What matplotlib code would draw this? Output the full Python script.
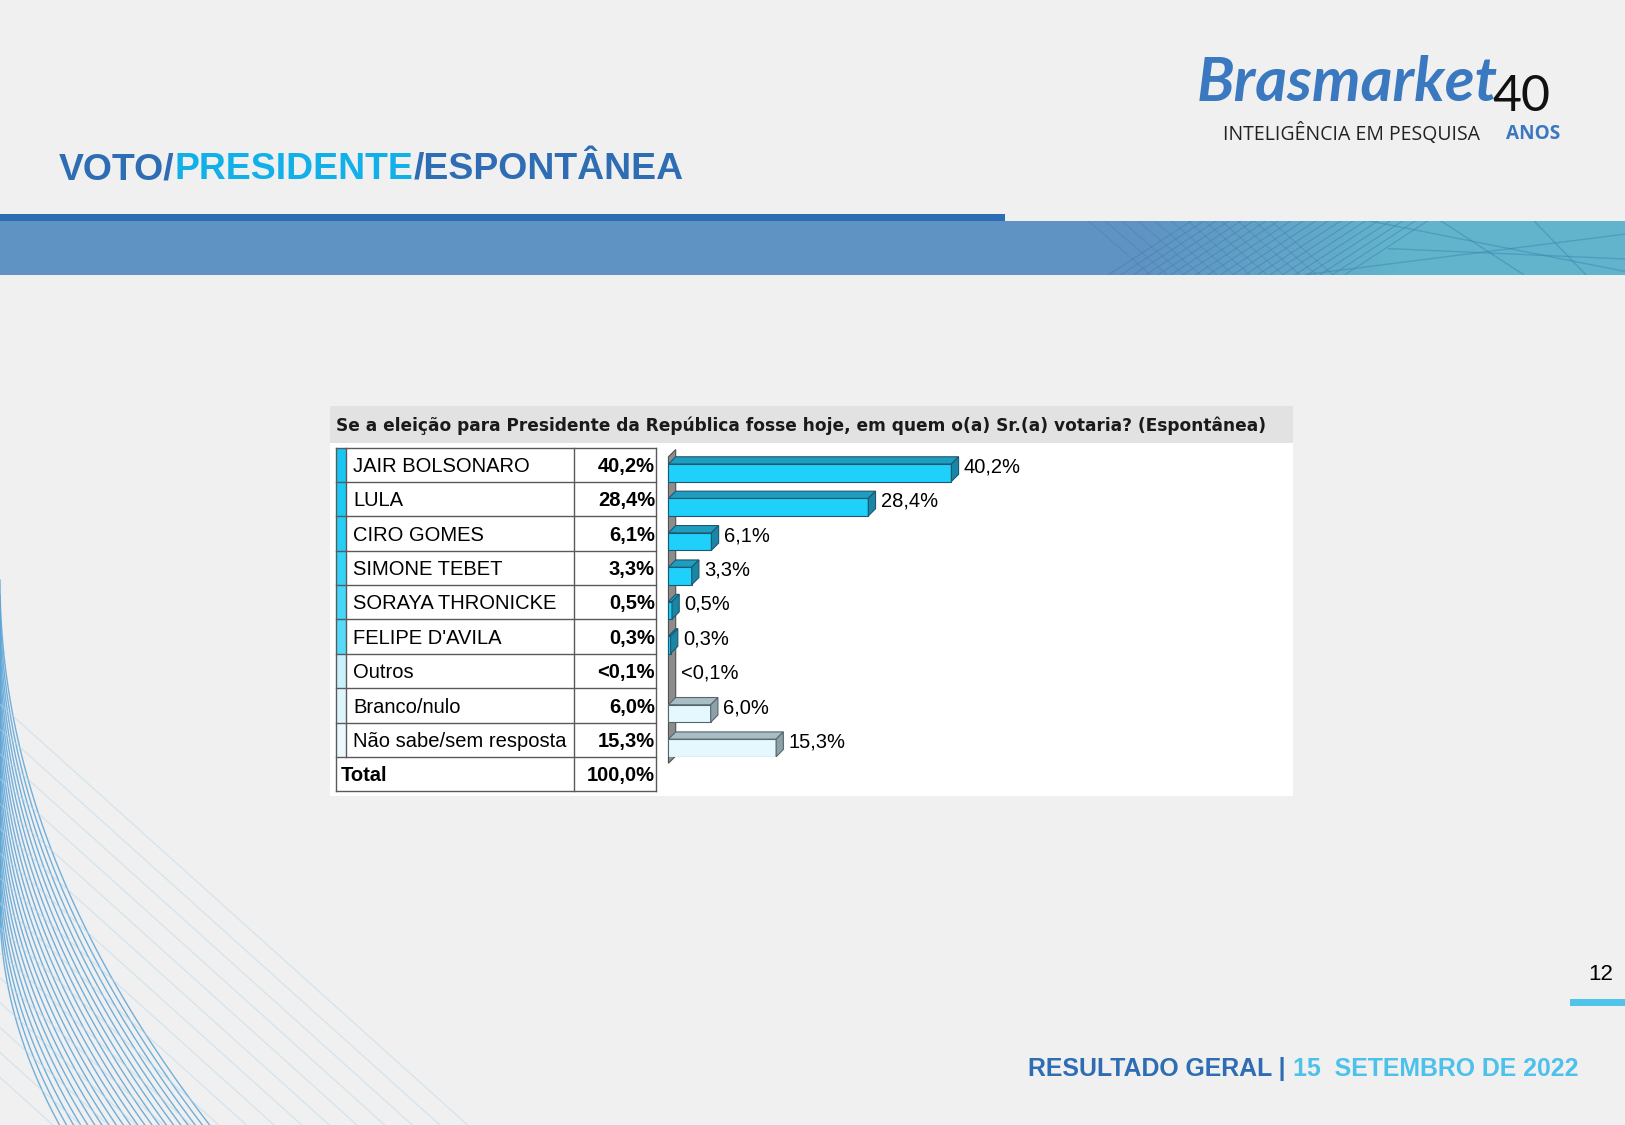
import numpy as np
import matplotlib
matplotlib.use("Agg")
import matplotlib.pyplot as plt
from matplotlib.patches import Polygon, Rectangle

# data
categories = ["JAIR BOLSONARO", "LULA", "CIRO GOMES", "SIMONE TEBET", "SORAYA THRONICKE",
              "FELIPE D'AVILA", "Outros", "Branco/nulo", "Não sabe/sem resposta"]
values = [40.2, 28.4, 6.1, 3.3, 0.5, 0.3, 0.0, 6.0, 15.3]
value_labels = ["40,2%", "28,4%", "6,1%", "3,3%", "0,5%", "0,3%", "<0,1%", "6,0%", "15,3%"]
total_text = ["Total", "100,0%"]
question = "Se a eleição para Presidente da República fosse hoje, em quem o(a) Sr.(a) votaria? (Espontânea)"
title_runs = ["VOTO/", "PRESIDENTE", "/ESPONTÂNEA"]
footer_runs = ["RESULTADO GERAL | ", "15  SETEMBRO DE 2022"]
page_no = "12"

# styles
strip_colors = ["#17C6F2", "#1CCBF5", "#25CEF6", "#34D3F8", "#45D7F9", "#55DBF9",
                "#C9F1FC", "#DDF6FD", "#EBF9FE"]
is_light = [False] * 6 + [True] * 3
BLUE = "#2E6DB4"
CYAN = "#12B0E8"
BG = "#F0F0F0"

W, H = 1568, 1086          # layout units (reference pixels)
FW, FH = 1625, 1125
fig = plt.figure(figsize=(FW / 100, FH / 100), dpi=100)
fig.patch.set_facecolor(BG)
bg = fig.add_axes([0, 0, 1, 1])
bg.set_xlim(0, W)
bg.set_ylim(H, 0)
bg.axis("off")
r = fig.canvas.get_renderer()


def width_of(t):
    return t.get_window_extent(renderer=r).width * W / FW


def runs(texts, colors, x, y, target, ha="left", **kw):
    objs = [bg.text(0, y, s, color=c, va="center", ha="left", **kw) for s, c in zip(texts, colors)]
    tot = sum(width_of(o) for o in objs)
    for o in objs:
        o.set_fontsize(o.get_fontsize() * target / tot)
    tot = sum(width_of(o) for o in objs)
    cur = x if ha == "left" else x - tot
    for o in objs:
        o.set_x(cur)
        cur += width_of(o)
    return objs


# left decoration
tt = np.linspace(0, 1, 80)
for k in range(22):
    y0 = 560 + k * 15
    xe = 210 - k * 7
    bg.plot(xe * tt ** 2.0, y0 + (H + 10 - y0) * tt, color="#5BA3D6", lw=1.0, alpha=0.85)
for k in range(16):
    y0 = 680 + k * 24
    bg.plot([0, (H + 10 - y0) / 0.9], [y0, H + 10], color="#B5D8EE", lw=0.9, alpha=0.5)

# header line and band
bg.add_patch(Rectangle((0, 207), 970, 6, color=BLUE, lw=0))
grad = np.zeros((1, 400, 3))
c1 = np.array([0x5F, 0x93, 0xC3]) / 255
c2 = np.array([0x62, 0xB4, 0xCC]) / 255
xs = np.linspace(0, W, 400)
f = np.clip((xs - 1100) / 250, 0, 1)[:, None]
grad[0] = c1 * (1 - f) + c2 * f
bg.imshow(grad, extent=[0, W, 265, 213], aspect="auto", zorder=1)
band_clip = Rectangle((0, 213), W, 52, transform=bg.transData)
for x0 in np.arange(1070, 1300, 12):
    ln, = bg.plot([x0, x0 + 80], [265, 213], color="#4A7CB0", lw=0.8, alpha=0.55, zorder=2)
    ln.set_clip_path(band_clip)
for x0 in np.arange(1110, 1300, 16):
    ln, = bg.plot([x0, x0 - 60], [265, 213], color="#4A7CB0", lw=0.7, alpha=0.45, zorder=2)
    ln.set_clip_path(band_clip)
for (xa, ya, xb, yb) in [(1320, 213, 1568, 262), (1390, 213, 1470, 265), (1260, 265, 1568, 226),
                         (1480, 213, 1530, 265), (1340, 240, 1568, 250)]:
    ln, = bg.plot([xa, xb], [ya, yb], color="#3E86B0", lw=1.0, alpha=0.5, zorder=2)
    ln.set_clip_path(band_clip)

# title
runs(title_runs, [BLUE, CYAN, BLUE], 57, 164, 605, fontsize=25,
     fontweight="bold", family="Liberation Sans")

# logo
runs(["Brasmarket"], ["#3A78C0"], 1155, 80, 290, fontsize=40, fontweight="bold",
     style="italic", family="Lato")
bg.text(1440, 94, "40", fontsize=36, color="#111111", family="Lato",
        va="center", ha="left")
runs(["INTELIGÊNCIA EM PESQUISA"], ["#222222"], 1180, 129, 248, fontsize=12, family="Open Sans")
runs(["ANOS"], ["#3A78C0"], 1453, 129, 52, fontsize=12, family="Open Sans", fontweight="bold")

# chart panel
bg.add_patch(Rectangle((318, 392), 930, 36, color="#E2E2E2", lw=0))
bg.add_patch(Rectangle((318, 428), 930, 340, color="#FFFFFF", lw=0))
runs([question], ["#1A1A1A"], 324, 411, 893, fontsize=11, fontweight="bold", family="DejaVu Sans")

# table
row_h = 33.2
tx0, tx1, tx2, tx3 = 324, 334, 554, 633
ty0 = 432
n = len(categories)
lc = "#5A5A5A"
fs = 14.5
for i in range(n):
    y = ty0 + i * row_h
    bg.add_patch(Rectangle((tx0, y), tx1 - tx0, row_h, color=strip_colors[i], lw=0, zorder=3))
    bg.text(341, y + row_h / 2 + 1.5, categories[i], fontsize=fs, family="Liberation Sans",
            va="center", ha="left", zorder=4)
    bg.text(632, y + row_h / 2 + 1.5, value_labels[i], fontsize=fs, family="Liberation Sans",
            fontweight="bold", va="center", ha="right", zorder=4)
ytot = ty0 + n * row_h
bg.text(329, ytot + row_h / 2 + 1.5, total_text[0], fontsize=fs, family="Liberation Sans",
        fontweight="bold", va="center", ha="left", zorder=4)
bg.text(632, ytot + row_h / 2 + 1.5, total_text[1], fontsize=fs, family="Liberation Sans",
        fontweight="bold", va="center", ha="right", zorder=4)
yend = ty0 + (n + 1) * row_h
for i in range(n + 2):
    y = ty0 + i * row_h
    bg.plot([tx0, tx3], [y, y], color=lc, lw=1.0, zorder=5)
for x in (tx0, tx2, tx3):
    bg.plot([x, x], [ty0, yend], color=lc, lw=1.0, zorder=5)
bg.plot([tx1, tx1], [ty0, ty0 + n * row_h], color=lc, lw=1.0, zorder=5)

# bars (3D look)
px_unit = 6.79
ax = fig.add_axes([645 / W, 1 - (ty0 + n * row_h) / H, 600 / W, n * row_h / H])
ax.set_xlim(0, 600 / px_unit)
ax.set_ylim(n, 0)
ax.axis("off")
dx = 7 / px_unit
dy = 7 / row_h
wall = Polygon([(0, 0.27), (dx, 0.06), (dx, n - 0.03), (0, n + 0.18)], closed=True,
               facecolor="#8C8C8C", edgecolor="#505050", lw=0.8, clip_on=False, zorder=1)
ax.add_patch(wall)
top_f, bot_f = 0.48, 0.99
for i, v in enumerate(values):
    if is_light[i]:
        front, top, side, edge = "#E4F8FE", "#A9BDC5", "#8DA1A9", "#56666C"
    else:
        front, top, side, edge = "#1ED0FA", "#1F9DC0", "#1A86A6", "#1D5870"
    if v > 0:
        ax.barh(i + (top_f + bot_f) / 2, v, height=bot_f - top_f, left=0, color=front,
                edgecolor=edge, lw=0.8, zorder=3)
        ax.add_patch(Polygon([(0, i + top_f), (v, i + top_f), (v + dx, i + top_f - dy),
                              (dx, i + top_f - dy)], closed=True, facecolor=top,
                             edgecolor=edge, lw=0.8, zorder=3))
        ax.add_patch(Polygon([(v, i + top_f), (v + dx, i + top_f - dy), (v + dx, i + bot_f - dy),
                              (v, i + bot_f)], closed=True, facecolor=side,
                             edgecolor=edge, lw=0.8, zorder=3))
    ax.text(v + dx + 5 / px_unit, i + 0.56, value_labels[i], fontsize=fs,
            family="Liberation Sans", va="center", ha="left", zorder=4)

# page number and footer
bg.text(1557, 941, page_no, fontsize=16, family="Liberation Sans", va="center", ha="right")
bg.add_patch(Rectangle((1515, 964), 53, 7, color="#4FC3EA", lw=0))
runs(footer_runs, [BLUE, "#4DC1EA"], 1523, 1032, 535, ha="right", fontsize=17,
     fontweight="bold", family="Liberation Sans")

fig.savefig("out.png", dpi=100, facecolor=fig.get_facecolor())
